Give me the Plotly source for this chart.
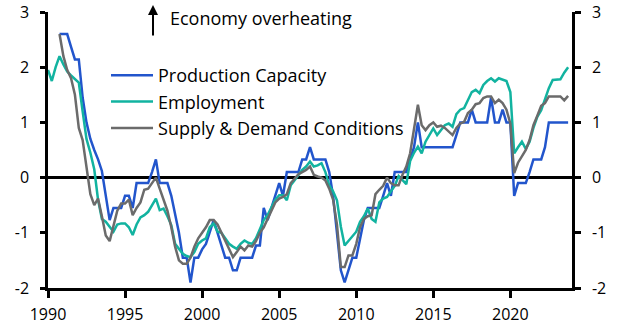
import pandas as pd
import plotly.graph_objects as go

# Quarterly survey balances, standardised (1990Q1 - 2023Q4)
quarters = pd.period_range("1990Q1", "2023Q4", freq="Q").to_timestamp()

production_capacity = [
    None, None, None, 2.6,
    2.6, 2.6, 2.37, 2.14,
    2.14, 1.45, 1.0, 0.7,
    0.5, 0.33, 0.12, -0.33,
    -0.77, -0.55, -0.55, -0.55,
    -0.33, -0.33, -0.55, -0.1,
    -0.1, -0.1, -0.1, 0.1,
    0.33, -0.1, -0.1, -0.1,
    -0.33, -0.66, -1.0, -1.45,
    -1.45, -1.9, -1.45, -1.45,
    -1.3, -1.2, -1.0, -0.77,
    -1.0, -1.23, -1.45, -1.45,
    -1.68, -1.68, -1.45, -1.45,
    -1.45, -1.45, -1.23, -1.23,
    -0.55, -0.77, -0.55, -0.33,
    -0.1, -0.33, 0.1, 0.1,
    0.1, 0.1, 0.33, 0.33,
    0.55, 0.33, 0.33, 0.33,
    0.33, 0.1, -0.33, -1.0,
    -1.68, -1.9, -1.68, -1.45,
    -1.45, -1.1, -0.77, -0.55,
    -0.55, -0.55, -0.55, -0.33,
    -0.1, -0.33, 0.1, 0.1,
    0.1, 0.1, 0.33, 0.55,
    1.0, 0.55, 0.55, 0.55,
    0.55, 0.55, 0.55, 0.55,
    0.55, 0.55, 0.77, 1.0,
    1.0, 1.0, 1.23, 1.0,
    1.0, 1.0, 1.0, 1.45,
    1.0, 1.0, 1.23, 1.0,
    1.0, -0.33, -0.1, -0.1,
    -0.1, 0.1, 0.33, 0.33,
    0.33, 0.55, 1.0, 1.0,
    1.0, 1.0, 1.0, 1.0,
]

employment = [
    1.95, 1.75, 2.0, 2.2,
    2.05, 1.92, 1.85, 1.78,
    1.72, 1.2, 0.7, 0.45,
    0.15, -0.4, -0.75, -0.8,
    -0.9, -0.98, -0.85, -0.83,
    -0.83, -0.9, -1.04, -0.85,
    -0.72, -0.68, -0.62, -0.5,
    -0.38, -0.59, -0.56, -0.7,
    -0.86, -1.2, -1.3, -1.38,
    -1.42, -1.44, -1.35, -1.2,
    -1.14, -1.1, -0.9, -0.83,
    -0.98, -1.0, -1.1, -1.2,
    -1.25, -1.29, -1.2, -1.14,
    -1.18, -1.2, -1.1, -0.95,
    -0.77, -0.68, -0.55, -0.4,
    -0.32, -0.32, -0.41, -0.14,
    -0.05, 0.05, 0.14, 0.2,
    0.29, 0.2, 0.22, 0.26,
    0.1, -0.14, -0.25, -0.41,
    -0.89, -1.23, -1.15, -1.05,
    -0.98, -0.8, -0.7, -0.56,
    -0.75, -0.8, -0.45, -0.38,
    -0.35, -0.25, -0.15, 0.03,
    -0.05, -0.12, 0.3, 0.45,
    0.56, 0.44, 0.65, 0.78,
    0.89, 0.77, 0.85, 0.95,
    0.98, 0.92, 1.15, 1.23,
    1.26, 1.4, 1.55, 1.59,
    1.53, 1.68, 1.75, 1.8,
    1.74, 1.8, 1.78, 1.75,
    1.55, 0.44, 0.55, 0.65,
    0.52, 0.65, 0.9, 1.1,
    1.22, 1.42, 1.62, 1.77,
    1.77, 1.78, 1.9, 2.0,
]

supply_demand = [
    None, None, None, 2.6,
    2.2, 1.95, 1.8, 1.5,
    0.9, 0.68, 0.15, -0.3,
    -0.5, -0.38, -0.7, -1.05,
    -1.15, -0.9, -0.6, -0.47,
    -0.47, -0.4, -0.68, -0.55,
    -0.45, -0.22, -0.2, -0.1,
    0.0, -0.2, -0.41, -0.6,
    -0.9, -1.25, -1.5, -1.56,
    -1.56, -1.45, -1.25, -1.1,
    -1.0, -0.9, -0.77, -0.77,
    -0.85, -1.0, -1.15, -1.3,
    -1.44, -1.35, -1.25, -1.32,
    -1.23, -1.25, -1.15, -1.0,
    -0.9, -0.75, -0.6, -0.45,
    -0.38, -0.35, -0.3, -0.1,
    -0.02, 0.06, 0.1, 0.14,
    0.2, 0.05, 0.02, 0.0,
    -0.05, -0.2, -0.4, -0.85,
    -1.62, -1.62, -1.41, -1.41,
    -1.2, -0.9, -0.75, -0.7,
    -0.68, -0.3, -0.22, -0.15,
    0.0, -0.1, -0.14, -0.14,
    0.05, 0.2, 0.44, 0.92,
    1.32, 0.95, 0.86, 0.95,
    1.0, 0.92, 0.94, 0.9,
    0.83, 0.77, 0.9, 0.98,
    1.01, 1.17, 1.23, 1.33,
    1.35, 1.44, 1.47, 1.47,
    1.35, 1.41, 1.35, 1.23,
    0.98, 0.08, 0.27, 0.38,
    0.5, 0.68, 0.95, 1.12,
    1.3, 1.35, 1.47, 1.47,
    1.47, 1.47, 1.4, 1.48,
]

series = [
    ("Production Capacity", production_capacity, "#2255cc"),
    ("Employment", employment, "#12b3a0"),
    ("Supply & Demand Conditions", supply_demand, "#6b6b6b"),
]

y_ticks = [-2, -1, 0, 1, 2, 3]
y_tick_text = ["-2", "-1", "0", "1", "2", "3"]
x_tick_years = [1990, 1995, 2000, 2005, 2010, 2015, 2020]

FONT = "Open Sans"

fig = go.Figure()
for name, values, color in series:
    fig.add_trace(go.Scatter(
        x=quarters, y=values, name=name, mode="lines",
        line=dict(color=color, width=2.5), connectgaps=False,
    ))

# empty trace so the right-hand axis is drawn
fig.add_trace(go.Scatter(x=[quarters[0]], y=[None], yaxis="y2",
                         showlegend=False, hoverinfo="skip"))

axis_common = dict(
    showgrid=False, showline=True, linecolor="black", linewidth=2.5,
    ticks="outside", tickcolor="black", tickwidth=2.5,
    tickfont=dict(family=FONT, size=16, color="black"),
)

fig.update_layout(
    width=623, height=336,
    margin=dict(l=48, r=51, t=12, b=48, autoexpand=False),
    plot_bgcolor="white", paper_bgcolor="white",
    font=dict(family=FONT, color="black"),
    xaxis=dict(
        **axis_common, type="date",
        range=["1990-01-01", "2024-01-01"],
        tickvals=[f"{y}-01-01" for y in x_tick_years],
        ticktext=[str(y) for y in x_tick_years],
        ticklen=7, ticklabelstandoff=3, zeroline=False,
    ),
    yaxis=dict(
        **axis_common, range=[-2, 3], tickvals=y_ticks, ticktext=y_tick_text,
        ticklen=5, ticklabelstandoff=8,
        zeroline=True, zerolinecolor="black", zerolinewidth=2.5,
    ),
    yaxis2=dict(
        **axis_common, range=[-2, 3], tickvals=y_ticks, ticktext=y_tick_text,
        overlaying="y", side="right", ticklen=6, ticklabelstandoff=8,
        zeroline=False,
    ),
    legend=dict(
        x=0.1107, y=0.837, xanchor="left", yanchor="top",
        bgcolor="rgba(0,0,0,0)", borderwidth=0,
        font=dict(family=FONT, size=18, color="black"),
        tracegroupgap=0, itemwidth=42,
    ),
    showlegend=True,
)

# "Economy overheating" marker
fig.add_annotation(
    xref="paper", yref="paper", x=0.2004, y=1.0254,
    ax=0, ay=32, text="", showarrow=True,
    arrowhead=2, arrowsize=1, arrowwidth=2, arrowcolor="black", standoff=0,
)
fig.add_annotation(
    xref="paper", yref="paper", x=0.229, y=0.978,
    xanchor="left", yanchor="middle", showarrow=False,
    text="Economy overheating",
    font=dict(family=FONT, size=18, color="black"),
)

fig.write_html("out.html")
